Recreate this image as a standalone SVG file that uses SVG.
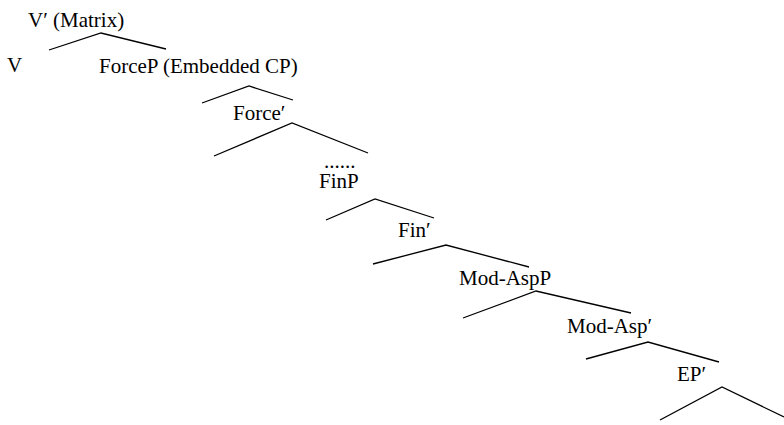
<svg xmlns="http://www.w3.org/2000/svg" width="784" height="425" viewBox="0 0 784 425">
<style>
text{font-family:"Liberation Serif","Times New Roman",serif;font-size:21px;fill:#000}
.e{fill:none;stroke:#000;stroke-width:1.3}
</style>
<rect width="784" height="425" fill="#fff"/>
<g id="connectors">
<polyline class="e" points="49,50 101,33 166,49"/>
<polyline class="e" points="202,103 249,86 293,100"/>
<polyline class="e" points="214,156 292,123 368,153"/>
<polyline class="e" points="326,220 375,199 434,218"/>
<polyline class="e" points="373,264 446,245 529,267"/>
<polyline class="e" points="463,318 536,291 631,313"/>
<polyline class="e" points="586,359 648,342 719,362"/>
<polyline class="e" points="660,420 722,387 784,417"/>
</g>
<g id="n-vbar"><text x="28" y="27">V′ (Matrix)</text></g>
<g id="n-v"><text x="7" y="72">V</text></g>
<g id="n-forcep"><text x="99" y="73">ForceP (Embedded CP)</text></g>
<g id="n-forcebar"><text x="233" y="120">Force′</text></g>
<g id="n-dots"><text x="324" y="168">......</text></g>
<g id="n-finp"><text x="319" y="188">FinP</text></g>
<g id="n-finbar"><text x="398" y="237">Fin′</text></g>
<g id="n-modaspp"><text x="459" y="285">Mod-AspP</text></g>
<g id="n-modaspbar"><text x="567" y="333">Mod-Asp′</text></g>
<g id="n-epbar"><text x="677" y="381">EP′</text></g>
</svg>
